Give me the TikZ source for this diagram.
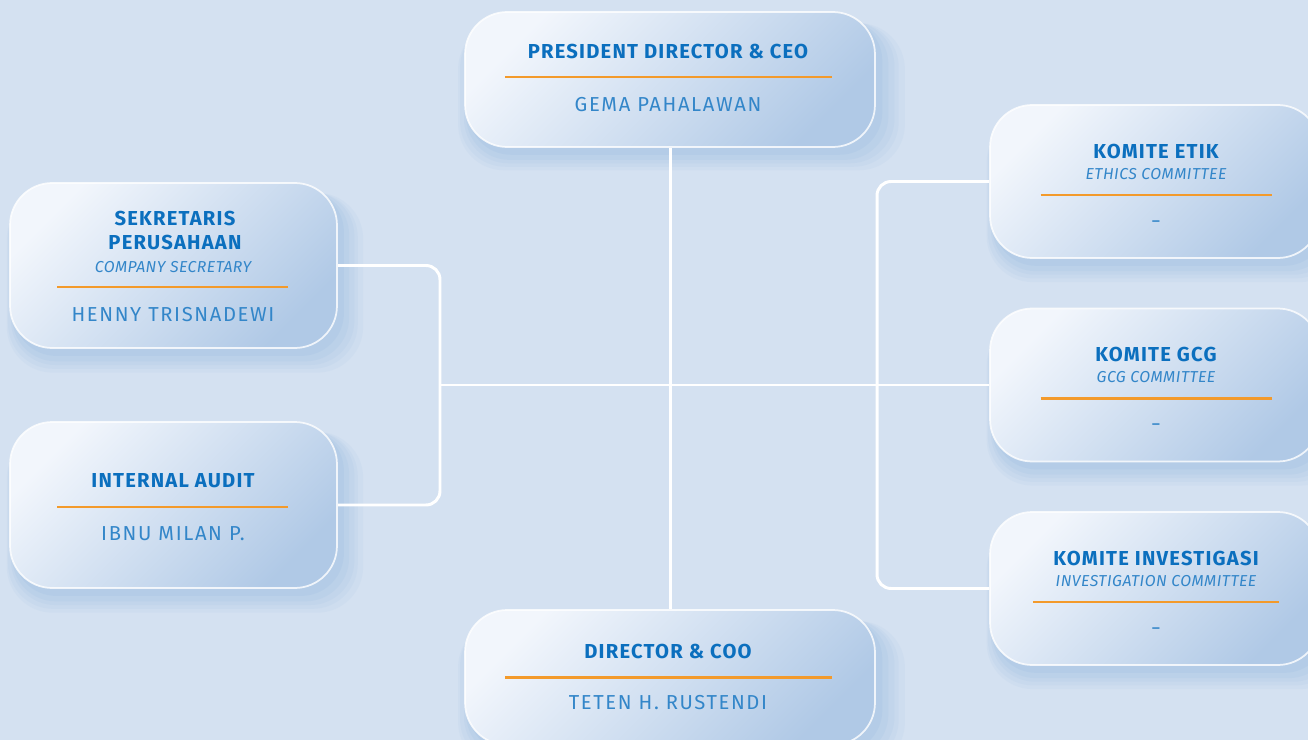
\documentclass[tikz,border=0pt]{standalone}
\usepackage{fontspec}
\setmainfont{Fira Sans}
\usetikzlibrary{shadows}

\definecolor{bgblue}{HTML}{D4E1F1}
\definecolor{boxlight}{HTML}{F2F6FC}
\definecolor{boxdark}{HTML}{B0C9E6}
\definecolor{shadowblue}{HTML}{86AFDE}
\definecolor{titleblue}{HTML}{0B6FBE}
\definecolor{nameblue}{HTML}{3386C9}
\definecolor{lineorange}{HTML}{F39A2B}

\tikzset{
  card/.style={rounded corners=24pt, draw=white, draw opacity=.8, line width=1pt,
    top color=boxlight, bottom color=boxdark, shading angle=45,
    general shadow={fill=shadowblue, opacity=.07, shadow xshift=6pt, shadow yshift=-9pt, shadow scale=1.09},
    general shadow={fill=shadowblue, opacity=.08, shadow xshift=5pt, shadow yshift=-8pt, shadow scale=1.07},
    general shadow={fill=shadowblue, opacity=.09, shadow xshift=5pt, shadow yshift=-7pt, shadow scale=1.05},
    general shadow={fill=shadowblue, opacity=.1, shadow xshift=4pt, shadow yshift=-6pt, shadow scale=1.03},
    general shadow={fill=shadowblue, opacity=.12, shadow xshift=3pt, shadow yshift=-4pt, shadow scale=1.01}},
  cardtitle/.style={text=titleblue, align=center,
    font=\fontsize{11.5}{14}\selectfont\bfseries\addfontfeatures{LetterSpace=6}},
  cardsub/.style={text=nameblue, font=\fontsize{9}{10}\selectfont\itshape\addfontfeatures{LetterSpace=3}},
  cardname/.style={text=nameblue, font=\fontsize{11.5}{12}\selectfont\addfontfeatures{LetterSpace=8}},
  orangeline/.style={lineorange, line width=1.7pt},
  link/.style={white, line width=1.7pt, rounded corners=8pt}
}

\begin{document}
\begin{tikzpicture}[x=0.02cm, y=-0.02cm]
    \useasboundingbox (0,0) rectangle (1308,740);
    \clip (0,0) rectangle (1308,740);
    \fill[bgblue] (0,0) rectangle (1308,740);

    %% the boxes
    \node[card, minimum width=8.2cm, minimum height=2.7cm] (ceo) at (670,79.5) {};
    \node[card, minimum width=8.2cm, minimum height=2.7cm] (coo) at (670,677.5) {};
    \node[card, minimum width=6.54cm, minimum height=3.3cm] (sek) at (173.5,265.5) {};
    \node[card, minimum width=6.54cm, minimum height=3.32cm] (audit) at (173.5,505) {};
    \foreach \nm/\y in {etik/181.5, gcg/385, inv/588.5}{
      \node[card, minimum width=6.6cm, minimum height=3.06cm] (\nm) at (1155,\y) {};}

    %% lines between them
    \coordinate (lhub) at (440,385);
    \coordinate (rhub) at (877,385);
    \draw[link] (sek.east) -| (lhub) |- (audit.east);
    \draw[link] (etik.west) -| (rhub) |- (inv.west);
    \draw[link] (lhub) -- (gcg.west);
    \draw[link] (ceo.south) -- (coo.north);

    %% president director
    \node[cardtitle] (ceo-t) at (668,52) {PRESIDENT DIRECTOR \& CEO};
    \draw[orangeline] (505,77) -- (832,77);
    \node[cardname] (ceo-n) at (668,105) {GEMA PAHALAWAN};

    %% director
    \node[cardtitle] (coo-t) at (668,651) {DIRECTOR \& COO};
    \draw[orangeline] (505,677) -- (832,677);
    \node[cardname] (coo-n) at (668,703) {TETEN H. RUSTENDI};

    %% company secretary
    \node[cardtitle] (sek-t) at (175,230.5) {SEKRETARIS\\PERUSAHAAN};
    \node[cardsub] (sek-s) at (173,267) {COMPANY SECRETARY};
    \draw[orangeline] (57,287) -- (288,287);
    \node[cardname] (sek-n) at (173,315) {HENNY TRISNADEWI};

    %% internal audit
    \node[cardtitle] (audit-t) at (173,481) {INTERNAL AUDIT};
    \draw[orangeline] (57,507) -- (288,507);
    \node[cardname] (audit-n) at (173,534) {IBNU MILAN P.};

    %% committees
    \foreach \nm/\y/\tt/\st/\w in {etik/181.5/KOMITE ETIK/ETHICS COMMITTEE/115.5,
        gcg/385/KOMITE GCG/GCG COMMITTEE/115.5,
        inv/588.5/KOMITE INVESTIGASI/INVESTIGATION COMMITTEE/123}{
      \node[cardtitle] (\nm-t) at (1156,\y-30.5) {\tt};
      \node[cardsub] (\nm-s) at (1156,\y-7.5) {\st};
      \draw[orangeline] (1156-\w,\y+13.5) -- (1156+\w,\y+13.5);
      \node[cardtitle, font=\fontsize{9}{10}\selectfont] (\nm-n) at (1156,\y+42) {–};}
\end{tikzpicture}
\end{document}
